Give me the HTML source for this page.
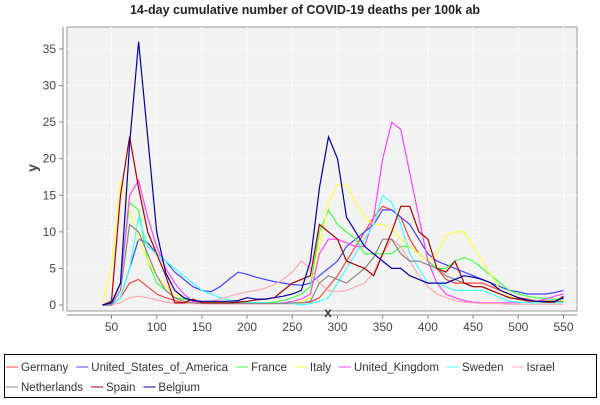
<!DOCTYPE html>
<html><head><meta charset="utf-8"><style>
body{margin:0;background:#fff;font-family:"Liberation Sans",sans-serif}
svg text{font-family:"Liberation Sans",sans-serif}
</style></head><body>
<svg width="600" height="400" viewBox="0 0 600 400" id="c">
<text x="305" y="14" text-anchor="middle" font-size="12.5" font-weight="bold" fill="#222">14-day cumulative number of COVID-19 deaths per 100k ab</text>
<rect x="67" y="27" width="510" height="284" fill="#f2f2f2" stroke="#999" stroke-width="1"/>
<g id="grid"></g><g id="axes"></g><g id="series"></g>
<text x="328" y="317" text-anchor="middle" font-size="14" font-weight="bold" fill="#444">x</text>
<text x="37" y="168" text-anchor="middle" font-size="14" font-weight="bold" fill="#444" transform="rotate(-90 37 168)">y</text>
<rect x="4.5" y="354.5" width="592" height="43" fill="#fff" stroke="#000"/>
<g id="legend"></g>
</svg>
<script>
const days=[40,50,60,70,80,90,100,110,120,130,140,150,160,170,180,190,200,210,220,230,240,250,260,270,280,290,300,310,320,330,340,350,360,370,380,390,400,410,420,430,440,450,460,470,480,490,500,510,520,530,540,550];
const seriesNames=["Germany","United_States_of_America","France","Italy","United_Kingdom","Sweden","Israel","Netherlands","Spain","Belgium"];
const germany=[0,0,1,3,3.5,2.5,1.5,1,0.6,0.3,0.2,0.2,0.2,0.2,0.2,0.2,0.2,0.2,0.2,0.2,0.2,0.2,0.3,0.4,1,2.5,4,6,8,10,12,13.5,13,12,9,7,6,5,3.5,3,3,3,3,2.5,2,1.5,1,0.8,0.6,0.5,0.5,0.5];
const usa=[0,0,1,5,9,8.5,7,6,4.5,3.5,2.5,2,1.8,2.5,3.5,4.5,4.2,3.8,3.5,3.2,3,2.8,2.7,3,4,5,6,8,9,10,11,13,13,12,11,9,7,6,5.5,5,4.5,4,3.5,3,2.5,2,1.8,1.5,1.5,1.5,1.7,2];
const france=[0,0.2,3,14,13,6,3,2,1,0.8,0.6,0.4,0.3,0.3,0.3,0.3,0.3,0.3,0.3,0.4,0.6,1,1.5,2.5,10,13,11,10,9,7,7,7,7,8,8,7,6,5,5,6,6.5,6,5,4,3,2,1.5,1.2,1,0.9,0.8,0.8];
const italy=[0.5,5,17,13,9,6,4,2.5,1.5,1,0.6,0.4,0.3,0.2,0.2,0.2,0.2,0.2,0.2,0.2,0.2,0.3,0.5,1,8,14,16.5,16.5,14,12,11,11,10.5,9,8,7,6,7,9.5,10,10,8,6,4,2,1.2,0.8,0.7,0.6,0.6,0.6,0.6];
const uk=[0,0,3,15,17,12,8,5,3,1.5,0.5,0.3,0.2,0.2,0.2,0.2,0.2,0.2,0.2,0.2,0.3,0.5,0.8,1.5,7,9,9,8.5,8,8,12,20,25,24,18,12,6,3,1.5,1,0.6,0.4,0.3,0.3,0.3,0.3,0.3,0.4,0.5,0.8,1.2,1.5];
const sweden=[0,0,1,5,12,8,7,6,5,4,3,2,1.5,1,0.7,0.5,0.4,0.3,0.3,0.2,0.2,0.2,0,0.2,0.5,1,3,5,7,9,11,15,14,11,7,5,3,3,2.5,2,2,2,2,1.5,1,0.5,0.4,0.3,0.3,0.3,0.3,0.3];
const israel=[0,0,0.3,1,1.2,1,0.7,0.4,0.2,0.2,0.2,0.3,0.5,0.8,1.2,1.5,1.8,2,2.3,2.8,3.5,4.5,6,5,3,2,1.8,2,2.5,3,4.5,7,9,8,6,4,2.5,1.5,1,0.6,0.4,0.3,0.2,0.2,0.2,0.1,0.1,0.1,0.1,0.1,0.1,0.1];
const netherlands=[0,0,2,11,10,7,4,2,1,0.5,0.3,0.2,0.2,0.2,0.2,0.2,0.2,0.2,0.2,0.2,0.2,0.3,0.3,0.5,3,4,3.5,3,4,5,6.5,9,9,7,6,6,5.5,5,4,3.5,3,2.5,2.5,2,1.5,1,0.8,0.6,0.5,0.5,0.5,0.5];
const spain=[0,0.5,15,23,16,10,7,4,0.3,0.3,0.8,0.3,0.3,0.3,0.3,0.4,0.5,0.7,0.8,1,2,3,3.5,4,11,10,9,6,5.5,5,4,7,10,13.5,13.5,10,9,5,4.5,6,3,2.5,2.5,2,1.5,1,0.8,0.6,0.5,0.4,0.4,1.2];
const belgium=[0,0.3,3,22,36,23,10,4.4,2,1,0.6,0.5,0.5,0.5,0.5,0.6,1,0.8,0.8,1,1.2,1.5,2,6,16,23,20,12,10,8,7,6,5,5,4,3.5,3,3,3,3.5,4,3.8,3.5,3,2,1.5,1,0.7,0.5,0.5,0.5,1];
const xTicks=[50,100,150,200,250,300,350,400,450,500,550];
const yTicks=[0,5,10,15,20,25,30,35];
const colors=["#ff4444","#4444ff","#44ff44","#ffff44","#ff44ff","#44ffff","#ffaaaa","#888888","#aa0000","#0000aa"];
const allSeries=[germany,usa,france,italy,uk,sweden,israel,netherlands,spain,belgium];
const NS="http://www.w3.org/2000/svg";
function sx(d){return 111.5+(d-50)*0.904;}
function sy(v){return 305-v*7.314;}
function mk(t,a,p){const e=document.createElementNS(NS,t);for(const k in a)e.setAttribute(k,a[k]);p.appendChild(e);return e;}
const grid=document.getElementById('grid'),axes=document.getElementById('axes'),ser=document.getElementById('series'),leg=document.getElementById('legend');
mk('line',{x1:63,y1:27,x2:63,y2:311,stroke:'#888'},axes);
mk('line',{x1:67,y1:315,x2:577,y2:315,stroke:'#888'},axes);
yTicks.forEach(v=>{const y=sy(v);
 const g=mk('line',{x1:67,x2:577,y1:y,y2:y,stroke:'#fff','stroke-dasharray':'2,2'},grid);
 
 mk('line',{x1:59,x2:63,y1:y,y2:y,stroke:'#888'},axes);
 const t=mk('text',{x:56,y:y+4,'text-anchor':'end','font-size':12,fill:'#444'},axes);t.textContent=v;
 });
xTicks.forEach(v=>{const x=sx(v);
 const g=mk('line',{x1:x,x2:x,y1:27,y2:311,stroke:'#fff','stroke-dasharray':'2,2'},grid);
 
 mk('line',{x1:x,x2:x,y1:315,y2:319,stroke:'#888'},axes);
 const t=mk('text',{x:x,y:331,'text-anchor':'middle','font-size':12,fill:'#444'},axes);t.textContent=v;
 });
allSeries.forEach((vals,i)=>{
 const pts=vals.map((v,j)=>sx(days[j]).toFixed(1)+','+sy(v).toFixed(1)).join(' ');
 const p=mk('polyline',{points:pts,fill:'none',stroke:colors[i],'stroke-width':1.2},ser);
 
 });
const ctx=document.createElement('canvas').getContext('2d');ctx.font='11.5px "Liberation Sans"';
let x=6,y=371;
seriesNames.forEach((n,i)=>{
 if(i===7){x=6;y=391;}
 const g=mk('g',{},leg);
 
 
 mk('line',{x1:x,x2:x+12,y1:y-4,y2:y-4,stroke:colors[i],'stroke-width':1},g);
 const t=mk('text',{x:x+15,y:y,'font-size':11.5,fill:'#333'},g);t.textContent=n;
 x+=15+ctx.measureText(n).width+8;});
</script>
</body></html>
